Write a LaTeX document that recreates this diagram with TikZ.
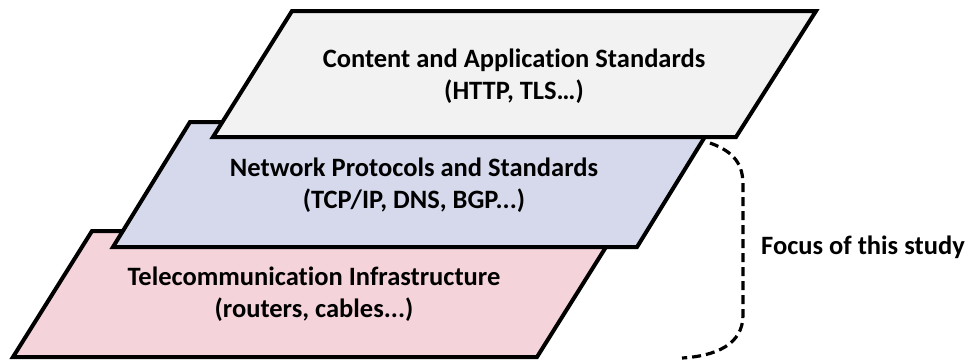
\documentclass[tikz,border=0pt]{standalone}
\usepackage{fontspec}
\setmainfont[Ligatures={NoCommon}]{Carlito}
\usepackage{tikz}
\definecolor{appgray}{HTML}{F2F2F2}
\definecolor{netblue}{HTML}{D5D9EB}
\definecolor{infpink}{HTML}{F5D3DA}
\tikzset{
	layer/.style={draw=black,line width=4pt,line join=miter},
	layertext/.style={align=center,font=\fontsize{26.5}{32}\selectfont\bfseries},
	focusline/.style={line width=3.2pt,dash pattern=on 9pt off 5pt}
}

\begin{document}
\begin{tikzpicture}[x=1pt,y=-1pt]
	\useasboundingbox (0,0) rectangle (968,360);
	\draw[layer,fill=infpink] (13,357)--(92,231)--(616,231)--(537,357)--cycle;
	\node[layertext] (infra) at (314,294) {Telecommunication Infrastructure\\(routers, cables...)};
	\draw[layer,fill=netblue] (113,247)--(190,122)--(714,122)--(637,247)--cycle;
	\node[layertext] (net) at (414,185) {Network Protocols and Standards\\(TCP/IP, DNS, BGP...)};
	\draw[layer,fill=appgray] (213,137)--(292,11)--(816,11)--(736,137)--cycle;
	\node[layertext] (app) at (514,76) {Content and Application Standards\\(HTTP, TLS…)};
	\coordinate (top) at (710,143);
	\coordinate (bot) at (682,358);
	\draw[focusline] (top) .. controls (735,152) and (743,165) .. (743,185) -- (743,315) .. controls (743,345) and (715,356) .. (bot);
	\node[layertext,anchor=west,inner sep=0pt] (focus) at (761,247) {Focus of this study};
\end{tikzpicture}
\end{document}
